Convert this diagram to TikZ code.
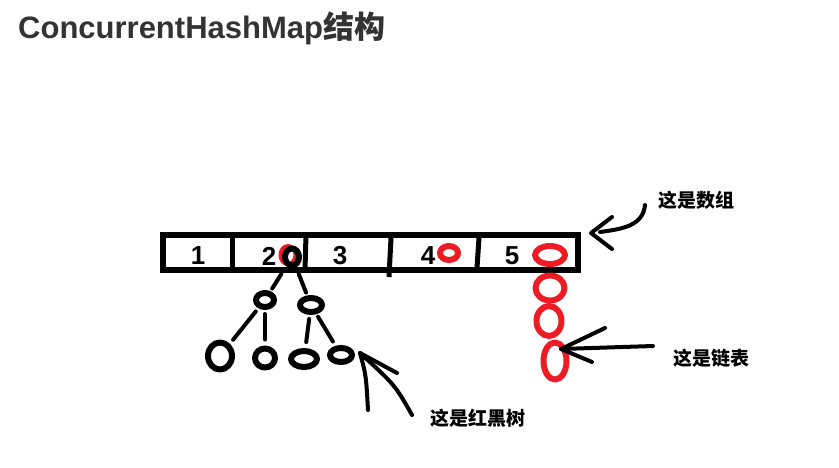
\documentclass[tikz,border=0pt]{standalone}
\usepackage{fontspec}
\setmainfont{Liberation Sans}
\newfontfamily\cjk{Noto Sans CJK SC}
\usetikzlibrary{shapes.geometric}

\definecolor{listred}{RGB}{237,28,36}
\definecolor{titlegray}{RGB}{51,51,51}

\tikzset{
  ink/.style={line width=6pt, line cap=round, line join=round},
  arm/.style={line width=4pt, line cap=round, line join=round},
  blk/.style={ellipse, draw, ink, inner sep=0pt},
  redring/.style={ellipse, draw=listred, ink, inner sep=0pt},
  cell/.style={font=\bfseries\fontsize{26}{26}\selectfont},
  note/.style={font=\cjk\bfseries\fontsize{19}{19}\selectfont, anchor=west},
}

\begin{document}
\begin{tikzpicture}[x=1pt,y=-1pt]
\useasboundingbox (0,0) rectangle (839,467);

% title
\node[anchor=base west, inner sep=0pt, text=titlegray,
      font=\bfseries\fontsize{31}{31}\selectfont] (title) at (18,38)
      {ConcurrentHashMap{\cjk\bfseries 结构}};

% the array
\draw[line width=6pt] (163,235) rectangle (578,270);
\draw[line width=5pt] (232,235) -- (232,270);
\draw[line width=5pt] (306,235) -- (305,270);
\draw[line width=5pt] (391,238) -- (389,277);
\draw[line width=5pt] (479,238) -- (477,268);
\foreach \n/\x in {1/198,2/269,3/340,4/428,5/512}
  \node[cell] (c\n) at (\x,256) {\n};

% buckets
\node[redring, line width=4pt, minimum width=15pt, minimum height=18pt] (b2r) at (288,255) {};
\node[blk, minimum width=14pt, minimum height=17pt] (b2) at (292,257) {};
\node[redring, minimum width=18pt, minimum height=14pt] (b4) at (449,253) {};

% linked list
\node[redring, minimum width=30pt, minimum height=18pt] (l0) at (550,255) {};
\node[redring, minimum width=29pt, minimum height=25pt] (l1) at (550,288) {};
\node[redring, minimum width=25pt, minimum height=30pt] (l2) at (549,321) {};
\node[redring, minimum width=23pt, minimum height=37pt] (l3) at (555,361) {};

% red-black tree
\node[blk, minimum width=18pt, minimum height=14pt] (t1) at (265,300) {};
\node[blk, minimum width=22pt, minimum height=14pt] (t2) at (311,305) {};
\node[blk, minimum width=24pt, minimum height=27pt] (t3) at (220,356) {};
\node[blk, minimum width=20pt, minimum height=19pt] (t4) at (265,358) {};
\node[blk, minimum width=26pt, minimum height=16pt] (t5) at (304,359) {};
\node[blk, minimum width=22pt, minimum height=14pt] (t6) at (341,355) {};
\draw[arm, shorten <=9pt, shorten >=3pt] (b2) -- (t1);
\draw[arm, shorten <=7pt, shorten >=3pt] (b2) -- (t2);
\draw[arm, shorten <=4pt, shorten >=5pt] (t1) -- (t3);
\draw[arm, shorten <=4pt, shorten >=6pt] (t1) -- (t4);
\draw[arm, shorten <=4pt, shorten >=6pt] (t2) -- (t5);
\draw[arm, shorten <=3pt, shorten >=5pt] (t2) -- (t6);

% notes
\node[note] (lbl1) at (655,200) {这是数组};
\node[note] (lbl2) at (670,358) {这是链表};
\node[note] (lbl3) at (427,418) {这是红黑树};

\coordinate (atip) at (591,233);
\coordinate (atail) at (645,205);
\draw[arm] (atail) .. controls (643,226) and (622,229) .. (600,232);
\draw[arm] (612,217) -- (atip) -- (612,249);

\coordinate (ltip) at (561,349);
\coordinate (ltail) at (653,346);
\draw[arm] (ltail) -- (ltip);
\draw[arm] (605,328) -- (ltip) -- (592,362);

\coordinate (ttip) at (360,353);
\coordinate (ttail) at (412,415);
\draw[arm] (ttail) .. controls (395,385) .. (ttip);
\draw[arm] (368,410) .. controls (366,375) .. (ttip) -- (397,373);
\end{tikzpicture}
\end{document}
